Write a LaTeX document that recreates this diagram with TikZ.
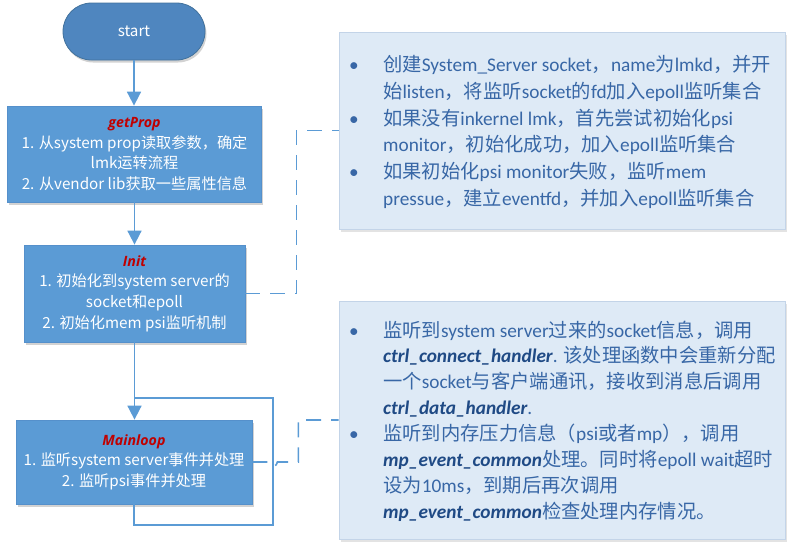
\documentclass[tikz,border=0pt]{standalone}
\usepackage{fontspec}
\setmainfont{Carlito}
\newfontfamily\cjkfont{Noto Sans CJK SC}
\newfontfamily\leftfont{Noto Sans CJK SC}
\newfontfamily\titlefont{Open Sans}
\usetikzlibrary{arrows.meta,shadows}
\XeTeXinterchartokenstate=1
\newXeTeXintercharclass\CJKcls
\newcount\cjkcnt
\cjkcnt="4E00
\loop\XeTeXcharclass\cjkcnt=\CJKcls\relax\ifnum\cjkcnt<"9FFF\relax\advance\cjkcnt by 1\relax\repeat
\cjkcnt="3000
\loop\XeTeXcharclass\cjkcnt=\CJKcls\relax\ifnum\cjkcnt<"303F\relax\advance\cjkcnt by 1\relax\repeat
\cjkcnt="FF00
\loop\XeTeXcharclass\cjkcnt=\CJKcls\relax\ifnum\cjkcnt<"FFEF\relax\advance\cjkcnt by 1\relax\repeat
\XeTeXinterchartoks 0 \CJKcls = {\begingroup\cjkfont}
\XeTeXinterchartoks 4095 \CJKcls = {\begingroup\cjkfont}
\XeTeXinterchartoks \CJKcls 0 = {\endgroup}
\XeTeXinterchartoks \CJKcls 4095 = {\endgroup}
\definecolor{boxblue}{HTML}{5B9BD5}
\definecolor{boxedge}{HTML}{5590CB}
\definecolor{startfill}{HTML}{4F86BF}
\definecolor{startedge}{HTML}{41719C}
\definecolor{linecol}{HTML}{5B9BD5}
\definecolor{notefill}{HTML}{DEEAF6}
\definecolor{noteedge}{HTML}{C3D4E8}
\definecolor{notetext}{HTML}{3867A6}
\definecolor{notebold}{HTML}{1F4A85}
\definecolor{titlered}{HTML}{C00000}
\newcommand\fnname[1]{{\bfseries\itshape\color{notebold}#1}}
\newcommand\flowtitle[1]{{\titlefont\fontsize{14.2}{20.6}\selectfont\bfseries\itshape\color{titlered}#1}}
\newcommand\bul{\makebox[34pt][l]{\textbullet}}
\newcommand\ind{\hspace*{34pt}}
\begin{document}
\begin{tikzpicture}[x=1pt,y=-1pt,
  flowbox/.style={draw=boxedge, fill=boxblue, line width=0.8pt, text=white,
    align=center, inner sep=0pt, font=\leftfont\fontsize{15.2}{20.6}\selectfont,
    drop shadow={shadow xshift=1.5pt, shadow yshift=-2.5pt, opacity=0.25, fill=black!70}},
  startbox/.style={flowbox, draw=startedge, fill=startfill, rounded corners=28.5pt},
  notebox/.style={draw=noteedge, fill=notefill, line width=0.8pt, inner sep=0pt,
    drop shadow={shadow xshift=1.5pt, shadow yshift=-2.5pt, opacity=0.18, fill=black!60}},
  notetxt/.style={anchor=west, align=left, inner sep=0pt, text=notetext},
  conn/.style={draw=linecol, line width=1.8pt},
  arr/.style={conn, -{Triangle[length=14pt,width=14pt]}},
  dconn/.style={draw=linecol, line width=1.6pt, dash pattern=on 15pt off 10pt}
]
\useasboundingbox (0,0) rectangle (807,552);

\node[startbox, minimum width=142pt, minimum height=57pt] (start) at (134,31.5) {start};
\node[flowbox, minimum width=254pt, minimum height=96pt] (getprop) at (134.5,154)
  {\flowtitle{getProp}\\1. 从system prop读取参数，确定\\lmk运转流程\\2. 从vendor lib获取一些属性信息};
\node[flowbox, minimum width=221pt, minimum height=97pt] (init) at (134.5,293.5)
  {\flowtitle{Init}\\1. 初始化到system server的\\socket和epoll\\2. 初始化mem psi监听机制};
\node[flowbox, minimum width=236pt, minimum height=84pt] (ml) at (134,462)
  {\flowtitle{Mainloop}\\1. 监听system server事件并处理\\2. 监听psi事件并处理};

\node[notebox, minimum width=446pt, minimum height=197pt] (note1) at (562,130.5) {};
\node[notetxt, font=\fontsize{19.3}{26.8}\selectfont] (note1txt) at (349,132)
  {\bul 创建System\_Server socket，name为lmkd，并开\\
   \ind 始listen，将监听socket的fd加入epoll监听集合\\
   \bul 如果没有inkernel lmk，首先尝试初始化psi\\
   \ind monitor，初始化成功，加入epoll监听集合\\
   \bul 如果初始化psi monitor失败，监听mem\\
   \ind pressue，建立eventfd，并加入epoll监听集合};

\node[notebox, minimum width=446pt, minimum height=238pt] (note2) at (562,420) {};
\node[notetxt, font=\fontsize{19.3}{25.9}\selectfont] (note2txt) at (349,421)
  {\bul 监听到system server过来的socket信息，调用\\
   \ind\fnname{ctrl\_connect\_handler}. 该处理函数中会重新分配\\
   \ind 一个socket与客户端通讯，接收到消息后调用\\
   \ind\fnname{ctrl\_data\_handler}.\\
   \bul 监听到内存压力信息（psi或者mp），调用\\
   \ind\fnname{mp\_event\_common}处理。同时将epoll wait超时\\
   \ind 设为10ms，到期后再次调用\\
   \ind\fnname{mp\_event\_common}检查处理内存情况。};

\coordinate (loopbr) at (273,525);
\coordinate (loopj) at (134,398);

\draw[arr] (start.south) -- (start.south |- getprop.north);
\draw[arr] (getprop.south) -- (getprop.south |- init.north);
\draw[arr] (init.south) -- (init.south |- ml.north);
\draw[conn] (ml.south) |- (loopbr) |- (loopj);

\draw[dconn] (init.east) -- ++(51,0) |- (note1.west);
\draw[dconn] (ml.east) -- ++(17,0) arc[start angle=180, end angle=0, radius=4] -- ++(21,0) |- (note2.west);
\end{tikzpicture}
\end{document}
